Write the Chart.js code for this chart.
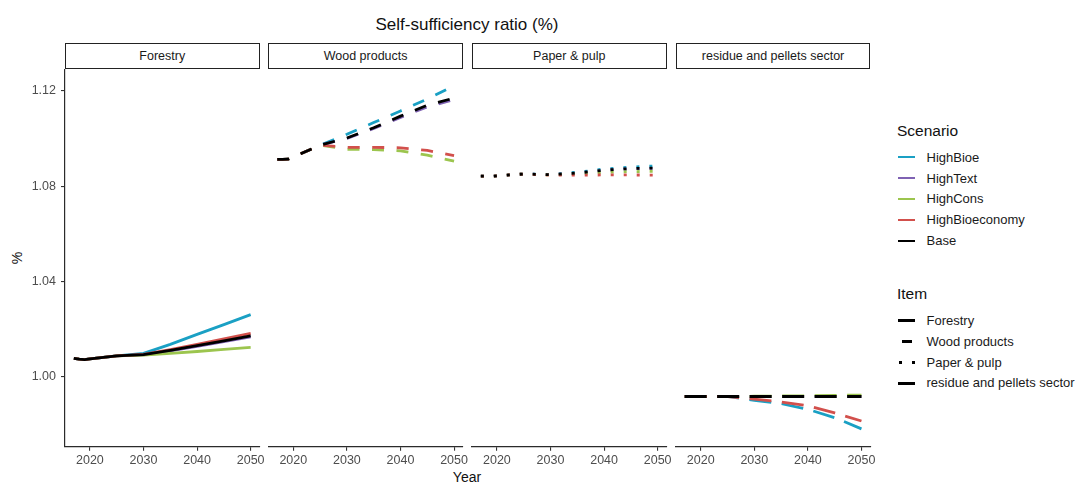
<!DOCTYPE html>
<html>
<head>
<meta charset="utf-8">
<script src="https://cdn.jsdelivr.net/npm/chart.js@4.4.1/dist/chart.umd.min.js"></script>
<style>
  html, body { margin: 0; padding: 0; background: #fff; }
  body { width: 1082px; height: 484px; position: relative; overflow: hidden;
         font-family: "Liberation Sans", Arial, sans-serif; }
  .abs { position: absolute; white-space: nowrap; }
  canvas { position: absolute; }
  .strip { position: absolute; top: 43px; height: 25.5px; box-sizing: border-box;
           border: 1.3px solid #222; background: #fff; color: #1a1a1a; font-size: 12.5px;
           display: flex; align-items: center; justify-content: center; }
  .title { font-size: 17px; color: #111; line-height: 20px; }
  .axtitle { font-size: 14px; color: #111; line-height: 18px; }
  .lgtitle { font-size: 15.5px; color: #111; line-height: 18px; left: 897px; }
  .lgtext { font-size: 13px; color: #1a1a1a; line-height: 16px; left: 926.5px; }
  .key { position: absolute; left: 898px; width: 17px; height: 0; }
</style>
</head>
<body>
<script>
// ---- values ----
const years = [2017, 2018, 2019, 2020, 2025, 2030, 2035, 2040, 2045, 2050];
const scenarios = ['HighBioe', 'HighText', 'HighCons', 'HighBioeconomy', 'Base'];
const items = ['Forestry', 'Wood products', 'Paper & pulp', 'residue and pellets sector'];
const xTickValues = [2020, 2030, 2040, 2050];
const yTickValues = [1.00, 1.04, 1.08, 1.12];

// rows follow the scenario order above
const forestry = [
  [1.0076, 1.0073, 1.0071, 1.0074, 1.0087, 1.0097, 1.0135, 1.0177, 1.0218, 1.0260],
  [1.0076, 1.0073, 1.0071, 1.0074, 1.0087, 1.0091, 1.0108, 1.0127, 1.0147, 1.0167],
  [1.0076, 1.0073, 1.0071, 1.0074, 1.0087, 1.0090, 1.0097, 1.0105, 1.0114, 1.0122],
  [1.0076, 1.0073, 1.0071, 1.0074, 1.0087, 1.0093, 1.0113, 1.0135, 1.0158, 1.0181],
  [1.0076, 1.0073, 1.0071, 1.0074, 1.0087, 1.0092, 1.0110, 1.0130, 1.0150, 1.0171]
];
const woodProducts = [
  [1.0912, 1.0912, 1.0913, 1.0922, 1.0972, 1.1018, 1.1067, 1.1116, 1.1166, 1.1222],
  [1.0912, 1.0912, 1.0913, 1.0922, 1.0972, 1.1000, 1.1042, 1.1089, 1.1133, 1.1163],
  [1.0912, 1.0912, 1.0913, 1.0922, 1.0972, 1.0955, 1.0953, 1.0948, 1.0930, 1.0905],
  [1.0912, 1.0912, 1.0913, 1.0922, 1.0972, 1.0963, 1.0963, 1.0961, 1.0950, 1.0928],
  [1.0912, 1.0912, 1.0913, 1.0922, 1.0972, 1.1002, 1.1045, 1.1094, 1.1140, 1.1170]
];
const paperPulp = [
  [1.0842, 1.0842, 1.0841, 1.0843, 1.0851, 1.0849, 1.0858, 1.0872, 1.0880, 1.0885],
  [1.0842, 1.0842, 1.0841, 1.0843, 1.0851, 1.0848, 1.0854, 1.0866, 1.0873, 1.0875],
  [1.0842, 1.0842, 1.0841, 1.0843, 1.0851, 1.0847, 1.0852, 1.0858, 1.0861, 1.0862],
  [1.0842, 1.0842, 1.0841, 1.0843, 1.0851, 1.0846, 1.0846, 1.0847, 1.0847, 1.0846],
  [1.0842, 1.0842, 1.0841, 1.0843, 1.0851, 1.0848, 1.0855, 1.0867, 1.0874, 1.0876]
];
const residuePellets = [
  [0.9916, 0.9916, 0.9916, 0.9916, 0.9916, 0.9900, 0.9886, 0.9862, 0.9827, 0.9780],
  [0.9916, 0.9916, 0.9916, 0.9916, 0.9916, 0.9916, 0.9916, 0.9916, 0.9916, 0.9916],
  [0.9916, 0.9916, 0.9916, 0.9916, 0.9916, 0.9917, 0.9918, 0.9919, 0.9921, 0.9922],
  [0.9916, 0.9916, 0.9916, 0.9916, 0.9916, 0.9905, 0.9893, 0.9877, 0.9847, 0.9813],
  [0.9916, 0.9916, 0.9916, 0.9916, 0.9916, 0.9916, 0.9916, 0.9916, 0.9916, 0.9916]
];

// ---- styling ----
const scenarioColors = ['#1aa0c4', '#7f62b3', '#9cc54e', '#d2504c', '#000000'];
const itemDashes = [[], [12, 12.5], [3, 10], [22, 10.5]];
const panelValues = [forestry, woodProducts, paperPulp, residuePellets];
const panelLefts = [65, 268.4, 472, 675.8];
const PANEL_W = 194.5;
const PLOT_TOP = 69.5, PLOT_BOTTOM = 446.7;
const CANVAS_TOP = 50, CANVAS_BOTTOM = 480;
const Y_AXIS_W = 60;
const tickFont = { family: '"Liberation Sans", Arial, sans-serif', size: 12.5 };
const TICK_GREY = '#4d4d4d';

function addDiv(cls, text, css) {
  const d = document.createElement('div');
  d.className = cls;
  d.textContent = text;
  Object.assign(d.style, css);
  document.body.appendChild(d);
  return d;
}

// overall title and axis titles
addDiv('abs title', 'Self-sufficiency ratio (%)', { left: '467px', top: '14.5px', transform: 'translateX(-50%)' });
addDiv('abs axtitle', 'Year', { left: '467px', top: '468px', transform: 'translateX(-50%)' });
addDiv('abs axtitle', '%', { left: '16.7px', top: '258px', transform: 'translate(-50%,-50%) rotate(-90deg)' });

// facet panels
panelValues.forEach((values, i) => {
  const left = panelLefts[i];
  const cLeft = Math.floor(left) - 70;
  const axisW = i === 0 ? Y_AXIS_W : 0;
  const padL = left - cLeft - axisW;
  const W = Math.ceil(left - cLeft + PANEL_W + 16);
  const padR = W - (left - cLeft) - PANEL_W;
  const H = CANVAS_BOTTOM - CANVAS_TOP;
  const cv = document.createElement('canvas');
  cv.width = W; cv.height = H;
  cv.style.left = cLeft + 'px'; cv.style.top = CANVAS_TOP + 'px';
  cv.style.width = W + 'px'; cv.style.height = H + 'px';
  document.body.appendChild(cv);

  new Chart(cv, {
    type: 'line',
    data: {
      datasets: scenarios.map((name, k) => ({
        label: name,
        data: years.map((yr, j) => ({ x: yr, y: values[k][j] })),
        borderColor: scenarioColors[k],
        borderWidth: 2.8,
        borderDash: itemDashes[i],
        borderCapStyle: 'butt',
        borderJoinStyle: 'round',
        pointRadius: 0,
        tension: 0,
        fill: false,
        order: scenarios.length - 1 - k
      }))
    },
    options: {
      responsive: false,
      animation: false,
      events: [],
      layout: { padding: { left: padL, right: padR, top: PLOT_TOP - CANVAS_TOP, bottom: 0 } },
      plugins: { legend: { display: false }, tooltip: { enabled: false } },
      scales: {
        x: {
          type: 'linear', min: 2015.35, max: 2051.65,
          afterBuildTicks: s => { s.ticks = xTickValues.map(v => ({ value: v })); },
          afterFit: s => { s.height = CANVAS_BOTTOM - PLOT_BOTTOM; },
          ticks: { font: tickFont, color: TICK_GREY, padding: 2, maxRotation: 0, autoSkip: false,
                   callback: v => String(v) },
          grid: { display: true, drawOnChartArea: false, drawTicks: true, tickLength: 4,
                  color: '#333', lineWidth: 1.1 },
          border: { display: true, color: '#2b2b2b', width: 1.2 }
        },
        y: {
          type: 'linear', min: 0.9705, max: 1.1290,
          display: i === 0,
          afterBuildTicks: s => { s.ticks = yTickValues.map(v => ({ value: v })); },
          afterFit: s => { s.width = axisW; },
          ticks: { font: tickFont, color: TICK_GREY, padding: 5, autoSkip: false,
                   callback: v => v.toFixed(2) },
          grid: { display: true, drawOnChartArea: false, drawTicks: true, tickLength: 4,
                  color: '#333', lineWidth: 1.1 },
          border: { display: true, color: '#2b2b2b', width: 1.2 }
        }
      }
    }
  });

  addDiv('strip', items[i], { left: left + 'px', width: PANEL_W + 'px' });
});

// legends
addDiv('abs lgtitle', 'Scenario', { top: (130.8 - 9) + 'px' });
const scenarioRows = [157.7, 178.5, 199.3, 220.1, 240.9];
scenarios.forEach((name, k) => {
  const y = scenarioRows[k];
  addDiv('abs lgtext', name, { top: (y - 8) + 'px' });
  addDiv('key', '', { top: (y - 1.25) + 'px', borderTop: '2.5px solid ' + scenarioColors[k] });
});

addDiv('abs lgtitle', 'Item', { top: (294 - 9) + 'px' });
const itemRows = [320.7, 341.6, 362.5, 383.4];
items.forEach((name, k) => {
  const y = itemRows[k];
  addDiv('abs lgtext', name, { top: (y - 8) + 'px' });
});
// item keys: solid, short dash, dots, long dash
addDiv('key', '', { top: (itemRows[0] - 1.5) + 'px', borderTop: '3px solid #000' });
addDiv('key', '', { top: (itemRows[1] - 1.5) + 'px', left: '901.5px', width: '10.5px', borderTop: '3px solid #000' });
addDiv('key', '', { top: (itemRows[2] - 1.5) + 'px', left: '898.5px', width: '3px', borderTop: '3px solid #000' });
addDiv('key', '', { top: (itemRows[2] - 1.5) + 'px', left: '911.5px', width: '3px', borderTop: '3px solid #000' });
addDiv('key', '', { top: (itemRows[3] - 1.5) + 'px', borderTop: '3px solid #000' });
</script>
</body>
</html>
